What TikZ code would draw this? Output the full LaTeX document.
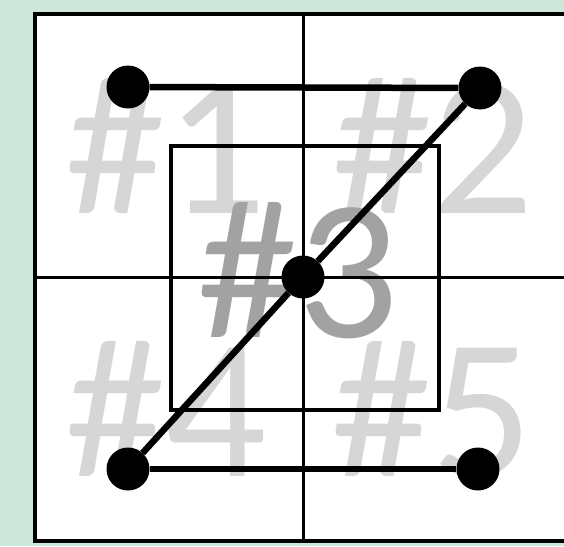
\documentclass[tikz,border=0pt]{standalone}
\usepackage{fontspec}
\setmainfont{Carlito}
\usepackage{tikz}
\usetikzlibrary{positioning}
\definecolor{panelgreen}{HTML}{CFE6DA}
\definecolor{zonegray}{HTML}{D6D6D6}
\definecolor{centergray}{HTML}{A2A2A2}

\begin{document}
\begin{tikzpicture}[
 x=1pt,y=-1pt,
 zone/.style={anchor=base,inner sep=0pt,text=zonegray,font=\fontsize{200}{200}\selectfont},
 dot/.style={circle,fill=black,minimum size=43pt,inner sep=0pt},
 link/.style={line width=6.5pt},
 grid/.style={line width=3pt}
]
\useasboundingbox[fill=panelgreen] (0,0) rectangle (564,546);
\fill[white] (35,13.5) rectangle (571,541);
% zone labels
\node[zone] (z1) at (166,213) {\#1};
\node[zone] (z2) at (433,213) {\#2};
\node[zone,text=centergray] (z3) at (298,337) {\#3};
\node[zone] (z4) at (166,476) {\#4};
\node[zone] (z5) at (432,476) {\#5};
% frames
\draw[line width=4pt] (35,13.5) rectangle (571,541);
\draw[line width=3.5pt] (171,146) rectangle (439,410);
\draw[grid] (303,13.5) -- (303,541);
\draw[grid] (35,277) -- (571,277);
% points and links
\node[dot] (p1) at (128,87) {};
\node[dot] (p2) at (480,88) {};
\node[dot] (p3) at (303,277) {};
\node[dot] (p4) at (128,469) {};
\node[dot] (p5) at (478,469) {};
\draw[link] (p1)--(p2); \draw[link] (p4)--(p3); \draw[link] (p3)--(p2); \draw[link] (p4)--(p5);
\end{tikzpicture}
\end{document}
